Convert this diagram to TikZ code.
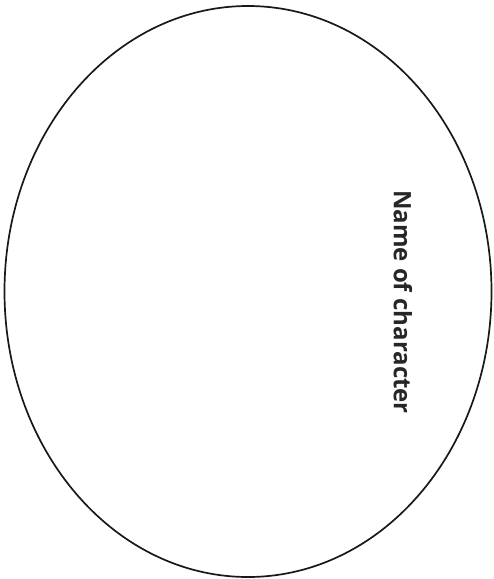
\documentclass[tikz,border=0pt]{standalone}
\usepackage{fontspec}
\setmainfont{Open Sans}
\begin{document}
\begin{tikzpicture}[x=1pt,y=-1pt,
  outline/.style={draw=black!90,line width=1.7pt},
  label/.style={font=\fontsize{24}{28}\selectfont\bfseries,text=black!85,rotate=-90,inner sep=0pt}]
\useasboundingbox (0,0) rectangle (494,579);
\draw[outline] (248,291.5) ellipse [x radius=243.5, y radius=285.5];
\node[label] (name) at (403,302) {Name of character};
\end{tikzpicture}
\end{document}
